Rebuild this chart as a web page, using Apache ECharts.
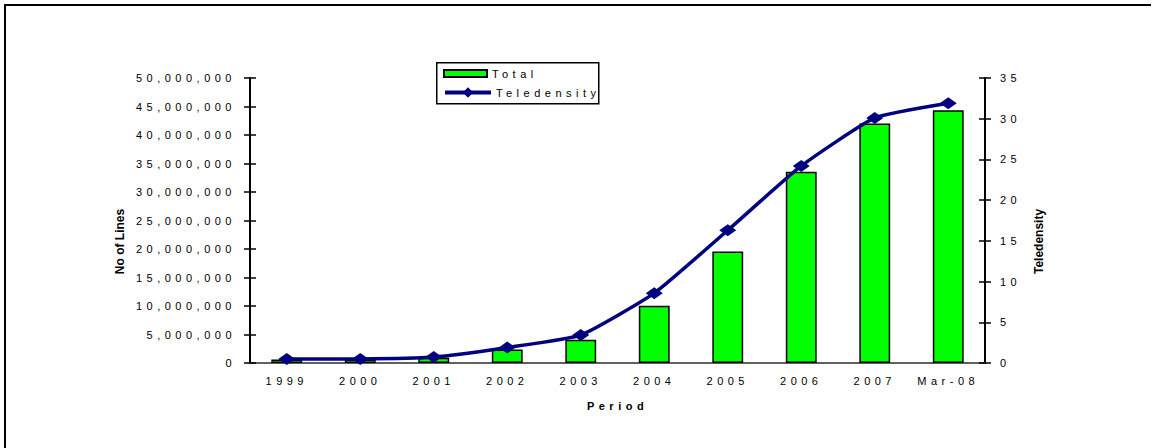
<!DOCTYPE html>
<html>
<head>
<meta charset="utf-8">
<script src="https://cdn.jsdelivr.net/npm/echarts@6/dist/echarts.min.js"></script>
<style>
  html, body { margin: 0; padding: 0; background: #fff; }
  #chart { width: 1161px; height: 448px; }
  /* tracked lettering for tick labels, legend and the period title */
  #chart text[style*="Arial"] { letter-spacing: 4.5px; }
</style>
</head>
<body>
<div id="chart"></div>
<script>
// Fixed-line totals and teledensity by period
const periods = ['1999', '2000', '2001', '2002', '2003', '2004', '2005', '2006', '2007', 'Mar-08'];
const totalLines = [600000, 620000, 900000, 2360000, 4100000, 10060000, 19560000, 33550000, 42000000, 44350000];
const teledensity = [0.49, 0.5, 0.73, 1.91, 3.43, 8.58, 16.3, 24.2, 30.1, 31.9];

// Axis scales
const linesMin = 0, linesMax = 50000000, linesStep = 5000000;
const densityMin = 0, densityMax = 35, densityStep = 5;

const SPACED = 'Liberation Sans, Arial';
const PLAIN = 'Liberation Sans';
const BLACK = '#000000';
const NAVY = '#000080';

const chart = echarts.init(document.getElementById('chart'), null, { renderer: 'svg' });

const tickLabel = { color: BLACK, fontFamily: SPACED, fontSize: 11 };

chart.setOption({
  animation: false,
  backgroundColor: '#ffffff',
  grid: { left: 250, right: 176, top: 78, bottom: 85 },
  xAxis: [
    {
      type: 'category', data: periods, position: 'bottom',
      axisLine: { lineStyle: { color: BLACK, width: 2 } },
      axisTick: { inside: false, length: 5, lineStyle: { color: BLACK, width: 1.5 } },
      axisLabel: Object.assign({ margin: 12 }, tickLabel),
      name: 'Period', nameLocation: 'middle', nameGap: 37,
      nameTextStyle: { color: BLACK, fontFamily: SPACED, fontSize: 11, fontWeight: 'bold' }
    },
    {
      type: 'category', data: periods, position: 'bottom',
      axisLine: { show: false },
      axisTick: { inside: true, length: 3, lineStyle: { color: BLACK, width: 1.5 } },
      axisLabel: { show: false }
    },
    {
      type: 'category', data: periods, position: 'top',
      axisLine: { lineStyle: { color: '#808080', width: 1.5 } },
      axisTick: { show: false },
      axisLabel: { show: false }
    }
  ],
  yAxis: [
    {
      type: 'value', position: 'left', min: linesMin, max: linesMax, interval: linesStep,
      axisLine: { show: true, lineStyle: { color: BLACK, width: 2 } },
      axisTick: { show: true, inside: false, length: 6, lineStyle: { color: BLACK, width: 1.5 } },
      axisLabel: Object.assign({ margin: 14, formatter: v => v.toLocaleString('en-US') }, tickLabel),
      splitLine: { show: false },
      name: 'No of Lines', nameLocation: 'middle', nameGap: 124, nameRotate: 90,
      nameTextStyle: { color: BLACK, fontFamily: PLAIN, fontSize: 12, fontWeight: 'bold', padding: [0, 42, 0, 0] }
    },
    {
      type: 'value', position: 'right', min: densityMin, max: densityMax, interval: densityStep,
      axisLine: { show: true, lineStyle: { color: BLACK, width: 2 } },
      axisTick: { show: true, inside: false, length: 6, lineStyle: { color: BLACK, width: 1.5 } },
      axisLabel: Object.assign({ margin: 15 }, tickLabel),
      splitLine: { show: false },
      name: 'Teledensity', nameLocation: 'middle', nameGap: 48, nameRotate: 90,
      nameTextStyle: { color: BLACK, fontFamily: PLAIN, fontSize: 12, fontWeight: 'bold', padding: [0, 42, 0, 0] }
    },
    {
      type: 'value', position: 'left', min: linesMin, max: linesMax, interval: linesStep,
      axisLine: { show: false },
      axisTick: { show: true, inside: true, length: 6, lineStyle: { color: BLACK, width: 1.5 } },
      axisLabel: { show: false }, splitLine: { show: false }
    },
    {
      type: 'value', position: 'right', min: densityMin, max: densityMax, interval: densityStep,
      axisLine: { show: false },
      axisTick: { show: true, inside: true, length: 6, lineStyle: { color: BLACK, width: 1.5 } },
      axisLabel: { show: false }, splitLine: { show: false }
    }
  ],
  legend: [
    {
      data: [{ name: 'Total', icon: 'rect' }], left: 443, top: 68, padding: 0, z: 20,
      itemWidth: 43, itemHeight: 7,
      textStyle: { color: BLACK, fontFamily: SPACED, fontSize: 11 }
    },
    {
      data: ['Teledensity'], left: 443, top: 87, padding: 0, z: 20,
      itemWidth: 46, itemHeight: 13,
      lineStyle: { color: NAVY, width: 4 },
      textStyle: { color: BLACK, fontFamily: SPACED, fontSize: 11 }
    }
  ],
  graphic: [
    {
      type: 'rect', left: 436, top: 62, z: 15,
      shape: { width: 162, height: 41 },
      style: { fill: '#ffffff', stroke: BLACK, lineWidth: 1.5 }
    },
    {
      type: 'polyline', z: 15, silent: true,
      shape: { points: [[5, 448], [5, 5], [1151, 5]] },
      style: { fill: null, stroke: BLACK, lineWidth: 2 }
    }
  ],
  series: [
    {
      name: 'Total', type: 'bar', data: totalLines,
      xAxisIndex: 0, yAxisIndex: 0, barWidth: '42%',
      itemStyle: { color: '#00ff00', borderColor: BLACK, borderWidth: 1.5 }
    },
    {
      name: 'Teledensity', type: 'line', data: teledensity,
      xAxisIndex: 0, yAxisIndex: 1, smooth: 0.15,
      symbol: 'diamond', symbolSize: [17, 12],
      lineStyle: { color: NAVY, width: 3.5 },
      itemStyle: { color: NAVY }
    }
  ]
});
</script>
</body>
</html>
